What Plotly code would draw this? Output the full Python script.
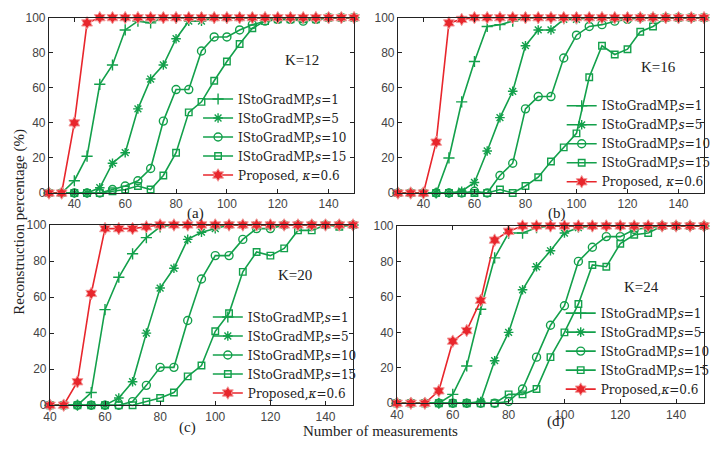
import plotly.graph_objects as go

W, H = 716, 449

# measurement counts
m_ab = list(range(30, 155, 5))
m_cd = list(range(40, 155, 5))

# (a) K=12
a_s1 = [0, 0, 7, 21, 62, 73, 93, 98, 97, 100, 100, 100, 100, 100, 100, 100, 100, 100, 100, 100, 100, 100, 100, 100, 100]
a_s5 = [0, 0, 0, 0, 3, 17, 23, 48, 65, 73, 88, 98, 98, 100, 100, 100, 100, 100, 100, 100, 100, 100, 100, 100, 100]
a_s10 = [0, 0, 0, 0, 0, 2, 4, 7, 14, 41, 59, 59, 81, 89, 89, 93, 96, 98, 99, 99, 98, 99, 100, 100, 100]
a_s15 = [0, 0, 0, 0, 0, 1, 2, 4, 2, 10, 23, 46, 52, 64, 75, 85, 94, 98, 99, 99, 99, 99, 100, 100, 100]
a_prop = [0, 0, 40, 97, 100, 100, 100, 100, 100, 100, 100, 100, 100, 100, 100, 100, 100, 100, 100, 100, 100, 100, 100, 100, 100]

# (b) K=16
b_s1 = [0, 0, 0, 0, 20, 52, 75, 95, 96, 98, 100, 100, 100, 100, 100, 100, 100, 100, 100, 100, 100, 100, 100, 100, 100]
b_s5 = [0, 0, 0, 0, 0, 1, 6, 24, 43, 58, 84, 93, 93, 99, 99, 100, 100, 100, 100, 100, 100, 100, 100, 100, 100]
b_s10 = [0, 0, 0, 0, 0, 0, 1, 0, 10, 17, 48, 55, 55, 77, 90, 95, 96, 98, 99, 100, 100, 100, 100, 100, 100]
b_s15 = [0, 0, 0, 0, 0, 0, 0, 0, 2, 0, 4, 9, 18, 26, 34, 66, 84, 79, 82, 92, 95, 100, 100, 100, 100]
b_prop = [0, 0, 0, 29, 97, 99, 100, 100, 100, 100, 100, 100, 100, 100, 100, 100, 100, 100, 100, 100, 100, 100, 100, 100, 100]

# (c) K=20
c_s1 = [0, 0, 0, 7, 53, 71, 84, 93, 99, 100, 100, 100, 100, 100, 100, 100, 100, 100, 100, 100, 100, 100, 100]
c_s5 = [0, 0, 0, 0, 0, 4, 13, 40, 65, 76, 92, 96, 98, 100, 100, 100, 100, 100, 100, 100, 100, 100, 100]
c_s10 = [0, 0, 0, 0, 0, 0, 2, 11, 21, 21, 47, 70, 83, 83, 92, 98, 98, 100, 100, 100, 100, 100, 100]
c_s15 = [0, 0, 0, 0, 0, 0, 0, 2, 4, 7, 16, 22, 41, 51, 74, 85, 83, 87, 97, 97, 100, 99, 100]
c_prop = [0, 0, 13, 62, 98, 98, 98, 99, 100, 100, 100, 100, 100, 100, 100, 100, 100, 100, 100, 100, 100, 100, 100]

# (d) K=24
d_s1 = [0, 0, 0, 0, 5, 21, 53, 82, 96, 96, 99, 100, 100, 100, 100, 100, 100, 100, 100, 100, 100, 100, 100]
d_s5 = [0, 0, 0, 0, 0, 0, 1, 24, 40, 64, 77, 86, 96, 99, 100, 100, 100, 100, 100, 100, 100, 100, 100]
d_s10 = [0, 0, 0, 0, 0, 0, 0, 0, 1, 8, 26, 44, 55, 80, 88, 94, 94, 98, 99, 100, 100, 100, 100]
d_s15 = [0, 0, 0, 0, 0, 0, 0, 0, 5, 5, 8, 26, 40, 56, 78, 77, 90, 95, 96, 100, 100, 100, 100]
d_prop = [0, 0, 0, 7, 35, 41, 58, 92, 97, 100, 100, 100, 100, 100, 100, 100, 100, 100, 100, 100, 100, 100, 100]

x_ticks = [40, 60, 80, 100, 120, 140]
y_ticks = [0, 20, 40, 60, 80, 100]

GREEN = "#13A04B"
RED = "#E8262C"
SERIF = "Liberation Serif"
LEGEND_SERIF = "DejaVu Serif"
SANS = "Liberation Sans"


def px(x):
    return x / W


def py(y):
    return 1 - y / H


# panel boxes in pixels: (left, right, top, bottom)
panels = {
    "a": (43, 356, 11, 192),
    "b": (401, 715, 11, 192),
    "c": (44, 355, 225, 411),
    "d": (400, 715, 226, 409),
}

fig = go.Figure()

panel_data = [
    ("a", "x", "y", "legend", m_ab, [a_s1, a_s5, a_s10, a_s15, a_prop], "Proposed, <i>κ</i>=0.6"),
    ("b", "x2", "y2", "legend2", m_ab, [b_s1, b_s5, b_s10, b_s15, b_prop], "Proposed, <i>κ</i>=0.6"),
    ("c", "x3", "y3", "legend3", m_cd, [c_s1, c_s5, c_s10, c_s15, c_prop], "Proposed,<i>κ</i>=0.6"),
    ("d", "x4", "y4", "legend4", m_cd, [d_s1, d_s5, d_s10, d_s15, d_prop], "Proposed,<i>κ</i>=0.6"),
]

green_styles = [
    ("IStoGradMP,<i>s</i>=1", dict(symbol="cross-thin-open", size=8)),
    ("IStoGradMP,<i>s</i>=5", dict(symbol="asterisk-open", size=8)),
    ("IStoGradMP,<i>s</i>=10", dict(symbol="circle-open", size=8)),
    ("IStoGradMP,<i>s</i>=15", dict(symbol="square-open", size=6.5)),
]

for key, xa, ya, lg, xs, series, prop_name in panel_data:
    for (name, mk), ys in zip(green_styles, series[:4]):
        fig.add_trace(go.Scatter(
            x=xs, y=ys, mode="lines+markers", name=name,
            line=dict(color=GREEN, width=1.6),
            marker=dict(color=GREEN, line=dict(color=GREEN, width=1.4), **mk),
            xaxis=xa, yaxis=ya, legend=lg, cliponaxis=False,
        ))
    fig.add_trace(go.Scatter(
        x=xs, y=series[4], mode="lines+markers", name=prop_name,
        line=dict(color=RED, width=1.6),
        marker=dict(symbol="hexagram", size=9.5, color=RED, line=dict(color="#F39A9A", width=1)),
        xaxis=xa, yaxis=ya, legend=lg, cliponaxis=False,
    ))

axis_common = dict(
    showline=True, linecolor="#222", linewidth=1, mirror="ticks",
    ticks="inside", ticklen=4, tickcolor="#222", showgrid=False, zeroline=False,
    tickfont=dict(family=SANS, size=12, color="#444"),
)

layout = dict(
    width=W, height=H, margin=dict(l=0, r=0, t=0, b=0),
    plot_bgcolor="white", paper_bgcolor="white", showlegend=True,
)

axis_names = {"a": ("xaxis", "yaxis", "y", "x"), "b": ("xaxis2", "yaxis2", "y2", "x2"),
              "c": ("xaxis3", "yaxis3", "y3", "x3"), "d": ("xaxis4", "yaxis4", "y4", "x4")}
x_ranges = {"a": [30, 150], "b": [30, 150], "c": [40, 150], "d": [40, 150]}

for key, (l, r, t, b) in panels.items():
    xn, yn, anchor_y, anchor_x = axis_names[key]
    layout[xn] = dict(domain=[px(l), px(r)], range=x_ranges[key], tickvals=x_ticks,
                      anchor=anchor_y, **axis_common)
    layout[yn] = dict(domain=[py(b), py(t)], range=[0, 100], tickvals=y_ticks,
                      anchor=anchor_x, **axis_common)

legend_common = dict(
    bgcolor="rgba(0,0,0,0)", font=dict(family=LEGEND_SERIF, size=12, color="#222"),
    itemwidth=30, tracegroupgap=0, xanchor="left", yanchor="top",
    borderwidth=0,
)
legend_pos = {"legend": (196, 80), "legend2": (569, 87), "legend3": (206, 305), "legend4": (568, 301)}
for lg, (lx, ly) in legend_pos.items():
    layout[lg] = dict(x=px(lx), y=py(ly), **legend_common)

fig.update_layout(**layout)

annotations = [
    ("K=12", 303, 55), ("K=16", 668, 62), ("K=20", 295, 277), ("K=24", 651, 289),
    ("(a)", 193, 213), ("(b)", 564, 213), ("(c)", 185, 434), ("(d)", 563, 428),
    ("Number of measurements", 383, 438),
]
for text, ax_, ay_ in annotations:
    fig.add_annotation(text=text, x=px(ax_), y=py(ay_), xref="paper", yref="paper",
                       showarrow=False, xanchor="center", yanchor="middle",
                       font=dict(family=SERIF, size=15, color="#222"))

fig.add_annotation(text="Reconstruction percentage (%)", x=px(12), y=py(222),
                   xref="paper", yref="paper", showarrow=False, textangle=-90,
                   xanchor="center", yanchor="middle",
                   font=dict(family=SERIF, size=15, color="#222"))

fig.write_html("out.html")
